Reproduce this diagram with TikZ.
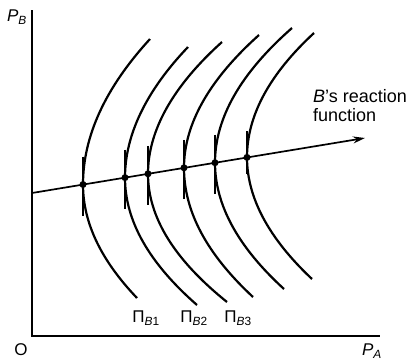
\documentclass[tikz,border=0pt]{standalone}
\usepackage{fontspec}
\setmainfont{Liberation Sans}
\usetikzlibrary{arrows.meta}
\begin{document}
\begin{tikzpicture}[x=1pt,y=-1pt,
  axis/.style={line width=1.8pt},
  curve/.style={line width=2.2pt},
  react/.style={line width=1.7pt,-{Stealth[length=12pt,width=7pt]}},
  tickline/.style={line width=1.4pt},
  dot/.style={circle,fill=black,inner sep=0pt,minimum size=7pt},
  lab/.style={inner sep=0pt,font=\fontsize{17}{17}\selectfont},
  biglab/.style={inner sep=0pt,font=\fontsize{18}{19}\selectfont}]
\useasboundingbox (0,0) rectangle (418,360);
% axes
\coordinate (O) at (32,336);
\coordinate (ytop) at (32,10);
\coordinate (xend) at (380,336);
\draw[axis] (ytop) -- (O) -- (xend);
\node[lab] (PB) at (17,17) {\textit{P}\textsubscript{\textit{B}}};
\node[lab] (PA) at (372,351) {\textit{P}\textsubscript{\textit{A}}};
\node[lab] (Olab) at (21,350) {O};
% reaction function
\coordinate (r0) at (32,193);
\coordinate (r1) at (365,138);
\draw[react] (r0) -- (r1);
\node[biglab,align=left,anchor=north west] (rf) at (313,89) {\textit{B}'s reaction\\function};
% dots
\node[dot] (d1) at (83,184.5) {};
\node[dot] (d2) at (125,177.6) {};
\node[dot] (d3) at (148,173.8) {};
\node[dot] (d4) at (184,167.8) {};
\node[dot] (d5) at (215,162.7) {};
\node[dot] (d6) at (247,157.4) {};
% iso-profit curves
\draw[curve] (150,39) .. controls (105.3,87.7) and (83,136.3) .. (d1.center) .. controls (83,222.7) and (101,260.3) .. (137,298);
\draw[curve] (188,47) .. controls (146,91) and (125,135) .. (d2.center) .. controls (125,221) and (149,263) .. (197,305);
\draw[curve] (222,42) .. controls (172.7,86.3) and (148,130.7) .. (d3.center) .. controls (148,217.3) and (174.3,259.7) .. (227,302);
\draw[curve] (259,35) .. controls (209,79.7) and (184,124.3) .. (d4.center) .. controls (184,211.7) and (207,254.3) .. (253,297);
\draw[curve] (292,28) .. controls (240.7,73) and (215,118) .. (d5.center) .. controls (215,205) and (238,247) .. (284,289);
\draw[curve] (314,33) .. controls (269.3,74.3) and (247,115.7) .. (d6.center) .. controls (247,197.7) and (268.7,238.3) .. (312,279);
% ticks
\foreach \d in {d1,d2,d3,d4,d5}{
  \draw[tickline] ([yshift=28pt]\d.center) -- ([yshift=-31pt]\d.center);
}
\draw[tickline] ([yshift=26pt]d6.center) -- ([yshift=-17pt]d6.center);
% labels
\node[lab] (L1) at (146,318) {Π\textsubscript{\textit{B}1}};
\node[lab] (L2) at (194,318) {Π\textsubscript{\textit{B}2}};
\node[lab] (L3) at (238,318) {Π\textsubscript{\textit{B}3}};
\end{tikzpicture}
\end{document}
